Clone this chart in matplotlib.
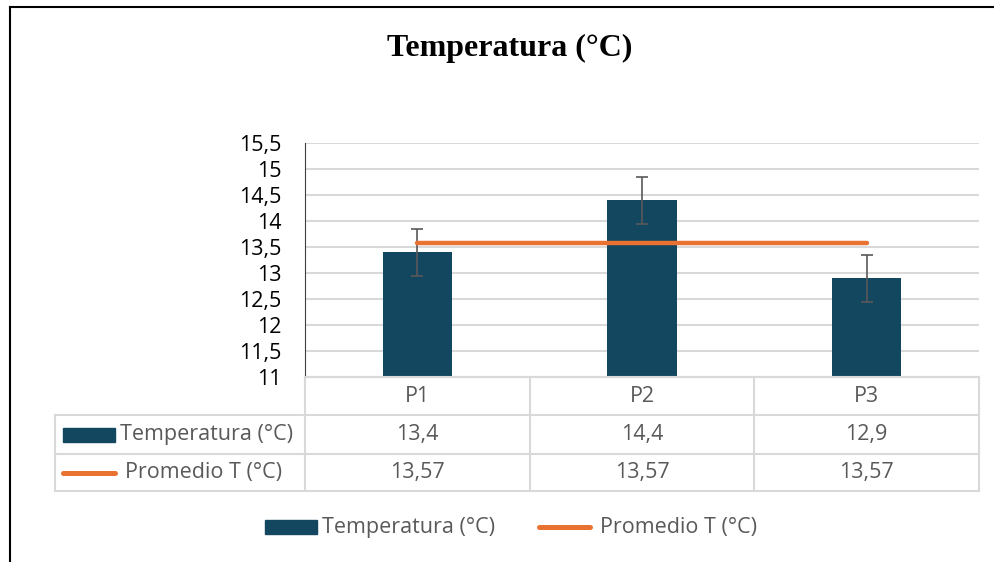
import matplotlib.pyplot as plt
from matplotlib.patches import Rectangle

categories = ["P1", "P2", "P3"]
temperatura = [13.4, 14.4, 12.9]
error = [0.45, 0.45, 0.45]
promedio = [13.57, 13.57, 13.57]
yticks = [11, 11.5, 12, 12.5, 13, 13.5, 14, 14.5, 15, 15.5]
name_temp = "Temperatura (°C)"
name_prom = "Promedio T (°C)"

W, H = 995, 562
bar_color = "#134760"
orange = "#E97132"
grid = "#d9d9d9"
txt = "#595959"
sans = ["Open Sans", "DejaVu Sans"]
fs = 15.5

def fmt(v):
    return ("%g" % v).replace(".", ",")

fig = plt.figure(figsize=(W / 100, H / 100), dpi=100)

# main plot axes, placed in pixel terms
x0, x1, ytop, ybot = 305, 979, 143, 377
ax = fig.add_axes([x0 / W, 1 - ybot / H, (x1 - x0) / W, (ybot - ytop) / H])
pos = list(range(len(categories)))
ax.bar(pos, temperatura, width=0.31, color=bar_color, zorder=2,
       yerr=error, error_kw=dict(ecolor="#595959", elinewidth=1.2, capsize=4, capthick=1.2, zorder=3))
ax.plot(pos, promedio, color=orange, lw=3.2, solid_capstyle="round", zorder=4)
ax.set_xlim(-0.5, 2.5)
ax.set_ylim(11, 15.5)
ax.set_yticks(yticks)
ax.set_yticklabels([fmt(v) for v in yticks], fontsize=fs, family=sans, color="black")
ax.set_xticks([])
ax.yaxis.grid(True, color=grid, lw=1.5, zorder=0)
for s in ["top", "right"]:
    ax.spines[s].set_visible(False)
ax.spines["bottom"].set_color(grid)
ax.spines["bottom"].set_linewidth(1.5)
ax.spines["left"].set_color("#404040")
ax.tick_params(axis="y", length=0, pad=17)

# overlay in pixel coordinates for table, legend, title, frame
ov = fig.add_axes([0, 0, 1, 1], zorder=-1)
ov.set_xlim(0, W)
ov.set_ylim(H, 0)
ov.axis("off")

col_w = (x1 - x0) / len(categories)
rows = [377, 415, 454, 491]
tl = 55
ov.plot([x0, x1], [rows[0]] * 2, color=grid, lw=1.5)
for r in rows[1:]:
    ov.plot([tl, x1], [r, r], color=grid, lw=1.5)
ov.plot([tl, tl], [rows[1], rows[3]], color=grid, lw=1.5)
for i in range(len(categories) + 1):
    xv = x0 + i * col_w
    ov.plot([xv, xv], [rows[0], rows[3]], color=grid, lw=1.5)

for i, c in enumerate(categories):
    cx = x0 + (i + 0.5) * col_w
    ov.text(cx, (rows[0] + rows[1]) / 2, c, ha="center", va="center", fontsize=fs, family=sans, color=txt)
    ov.text(cx, (rows[1] + rows[2]) / 2, fmt(temperatura[i]), ha="center", va="center", fontsize=fs, family=sans, color=txt)
    ov.text(cx, (rows[2] + rows[3]) / 2, fmt(promedio[i]), ha="center", va="center", fontsize=fs, family=sans, color=txt)

# row headers
ym = (rows[1] + rows[2]) / 2
ov.add_patch(Rectangle((63, ym - 7), 52, 14, color=bar_color))
ov.text(120, ym, name_temp, ha="left", va="center", fontsize=fs, family=sans, color=txt)
ym = (rows[2] + rows[3]) / 2
ov.plot([63, 115], [ym, ym], color=orange, lw=3.6, solid_capstyle="round")
ov.text(125, ym, name_prom, ha="left", va="center", fontsize=fs, family=sans, color=txt)

# legend
ly = 527
ov.add_patch(Rectangle((265, ly - 7), 52, 14, color=bar_color))
ov.text(322, ly, name_temp, ha="left", va="center", fontsize=fs, family=sans, color=txt)
ov.plot([539, 590], [ly, ly], color=orange, lw=3.6, solid_capstyle="round")
ov.text(600, ly, name_prom, ha="left", va="center", fontsize=fs, family=sans, color=txt)

# title
ov.text(510, 48, "Temperatura (°C)", ha="center", va="center", fontsize=23,
        fontweight="bold", family="Liberation Serif", color="black")

# outer frame
ov.plot([9.5, 9.5], [7, H], color="black", lw=1.5)
ov.plot([9.5, W], [7, 7], color="black", lw=1.5)

fig.savefig("out.png", dpi=100)
